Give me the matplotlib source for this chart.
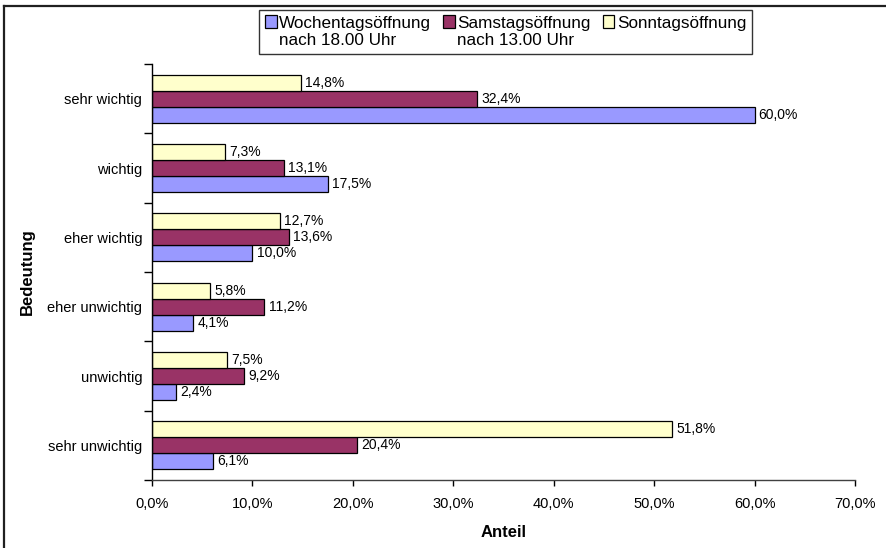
import matplotlib
matplotlib.use("Agg")
import matplotlib.pyplot as plt
import numpy as np
from matplotlib.ticker import FixedLocator, FuncFormatter
from matplotlib.lines import Line2D
from matplotlib.patches import Rectangle
from matplotlib.legend_handler import HandlerPatch

plt.rcParams['font.family'] = ['Liberation Sans', 'DejaVu Sans']

categories = ["sehr wichtig", "wichtig", "eher wichtig", "eher unwichtig", "unwichtig", "sehr unwichtig"]
series_names = ["Wochentagsöffnung\nnach 18.00 Uhr", "Samstagsöffnung\nnach 13.00 Uhr", "Sonntagsöffnung\n"]
wochentag = [60.0, 17.5, 10.0, 4.1, 2.4, 6.1]
samstag = [32.4, 13.1, 13.6, 11.2, 9.2, 20.4]
sonntag = [14.8, 7.3, 12.7, 5.8, 7.5, 51.8]
x_ticks = [0, 10, 20, 30, 40, 50, 60, 70]

colors = ["#9999FF", "#993366", "#FFFFCC"]

W, H = 886, 548
fig = plt.figure(figsize=(W / 100, H / 100), dpi=100)
ax = fig.add_axes([152 / W, 1 - 480 / H, (855 - 152) / W, (480 - 64) / H])

y = np.arange(len(categories))
bh = 0.231
offsets = [bh, 0.0, -bh]
series = [wochentag, samstag, sonntag]
bars = []
for vals, off, col, name in zip(series, offsets, colors, series_names):
    b = ax.barh(y + off, vals, height=bh, color=col, edgecolor="black", linewidth=0.9, label=name)
    bars.append(b)
    ax.bar_label(b, labels=[f"{v:.1f}%".replace(".", ",") for v in vals], padding=3, fontsize=10)

ax.set_xlim(0, 70)
ax.set_ylim(len(categories) - 0.5, -0.5)
ax.xaxis.set_major_locator(FixedLocator(x_ticks))
ax.xaxis.set_major_formatter(FuncFormatter(lambda v, p: f"{v:.1f}%".replace(".", ",")))
ax.tick_params(axis="x", labelsize=10.5, length=4, width=1, pad=8, direction="out")

ax.set_yticks(y)
ax.set_yticklabels(categories)
ax.set_yticks(np.arange(len(categories) + 1) - 0.5, minor=True)
ax.tick_params(axis="y", which="major", length=0, pad=7, labelsize=10.5)
ax.tick_params(axis="y", which="minor", length=6, width=1, direction="out")

for s in ["top", "right"]:
    ax.spines[s].set_visible(False)
ax.spines["left"].set_linewidth(1)
ax.spines["bottom"].set_linewidth(1)
ax.spines["bottom"].set_color("#404040")

ax.set_xlabel("Anteil", fontsize=12, fontweight="bold", labelpad=10)
ax.set_ylabel("Bedeutung", fontsize=12, fontweight="bold")
ax.yaxis.set_label_coords((35 - 152) / (855 - 152), 0.5)


class TopPatchHandler(HandlerPatch):
    def create_artists(self, legend, orig_handle, xdescent, ydescent, width, height, fontsize, trans):
        side = 0.72 * fontsize
        shift = 0.62 * fontsize
        p = Rectangle((-xdescent, -ydescent + (height - side) / 2 + shift), width, side,
                      facecolor=orig_handle.patches[0].get_facecolor(),
                      edgecolor="black", linewidth=0.9, transform=trans)
        return [p]


leg = fig.legend(handles=bars, labels=series_names, loc="upper left",
                 bbox_to_anchor=(259 / W, 1 - 10 / H), ncol=3, fontsize=12.3,
                 frameon=True, fancybox=False, shadow=False, borderaxespad=0,
                 handlelength=0.68, handleheight=0.7, handletextpad=0.15,
                 columnspacing=0.7, borderpad=0.35, edgecolor="black",
                 handler_map={b: TopPatchHandler() for b in bars})
leg.get_frame().set_linewidth(1)

# figure border (top and left only visible)
fig.add_artist(Line2D([4 / W, 1.0], [1 - 6 / H, 1 - 6 / H], transform=fig.transFigure, color="#202020", lw=1.6))
fig.add_artist(Line2D([4 / W, 4 / W], [0, 1 - 6 / H], transform=fig.transFigure, color="#202020", lw=1.6))

fig.savefig("out.png", dpi=100)
